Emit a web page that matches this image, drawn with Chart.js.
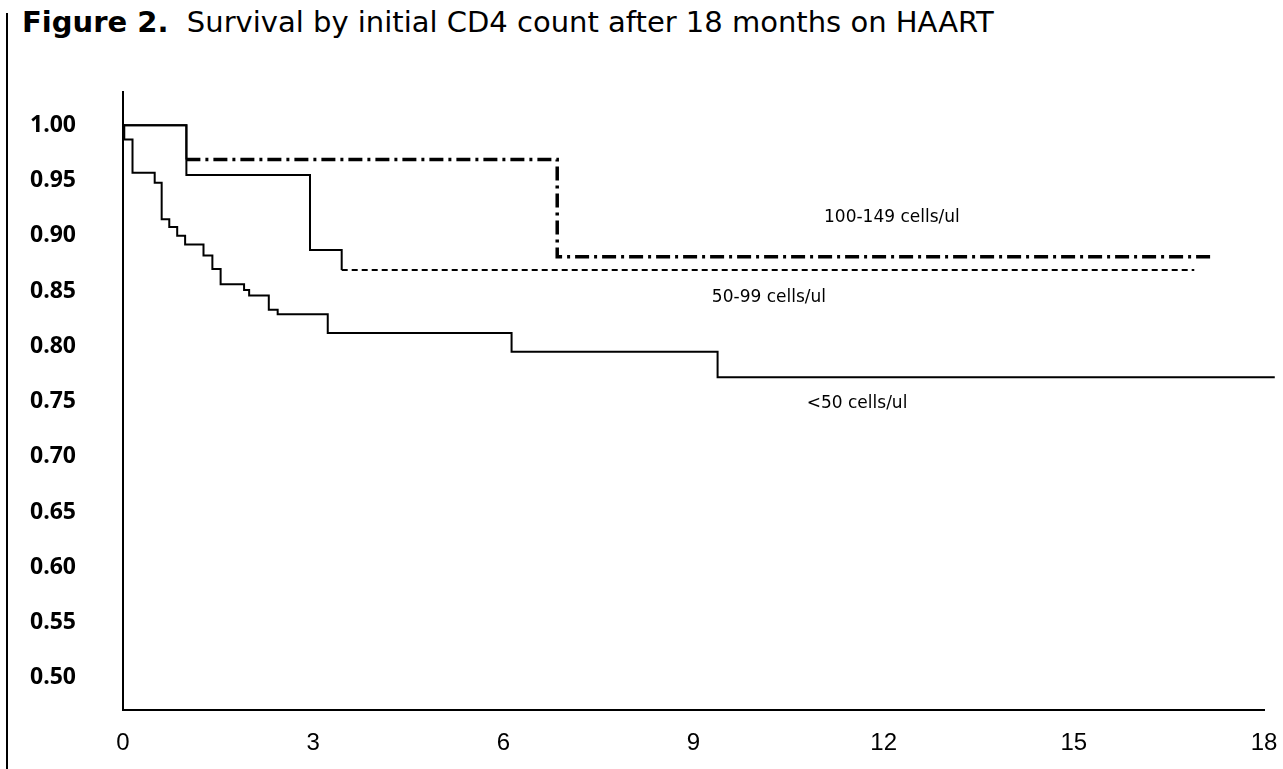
<!DOCTYPE html>
<html>
<head>
<meta charset="utf-8">
<title>Survival by initial CD4 count</title>
<script src="https://cdn.jsdelivr.net/npm/chart.js@4.4.1/dist/chart.umd.min.js"></script>
<style>
  html, body { margin: 0; padding: 0; background: #fff; }
  body { width: 1283px; height: 769px; position: relative; overflow: hidden; }
  .rule { position: absolute; left: 6px; top: 13px; bottom: 0; border-left: 2px solid #000; }
  h1 { position: absolute; left: 22px; top: 5px; margin: 0; font: 400 29px "DejaVu Sans", sans-serif; color: #000; white-space: pre; }
  h1 b { font-weight: 700; }
  .wrap { position: absolute; left: 0; top: 60px; width: 1283px; height: 709px; }
</style>
</head>
<body>
<div class="rule"></div>
<h1><b>Figure 2.</b>  Survival by initial CD4 count after 18 months on HAART</h1>
<div class="wrap"><canvas id="kmChart"></canvas></div>
<script>
// axis ticks
const monthTicks = [0, 3, 6, 9, 12, 15, 18];
const survTicks = [0.50, 0.55, 0.60, 0.65, 0.70, 0.75, 0.80, 0.85, 0.90, 0.95, 1.00];

// <50 cells/ul
const lt50Months = [0, 0.02, 0.15, 0.50, 0.61, 0.73, 0.855, 0.98, 1.27, 1.41, 1.54, 1.91, 1.99, 2.30, 2.44, 3.23, 6.13, 9.38, 18.17];
const lt50Surv = [1.00, 0.987, 0.957, 0.948, 0.915, 0.908, 0.900, 0.892, 0.882, 0.870, 0.856, 0.851, 0.846, 0.833, 0.829, 0.812, 0.795, 0.772, 0.772];

// 50-99 cells/ul
const mid50Months = [0, 1.0, 2.95, 3.45, 16.9];
const mid50Surv = [1.00, 0.955, 0.887, 0.869, 0.869];

// 100-149 cells/ul
const hi100Months = [0, 1.0, 6.85, 17.15];
const hi100Surv = [1.00, 0.969, 0.881, 0.881];

const groupNames = ['<50 cells/ul', '50-99 cells/ul', '100-149 cells/ul'];

function toPoints(xs, ys) {
    return xs.map((m, i) => ({ x: m, y: ys[i] }));
}

// curve captions, placed in data units
const captionAt = [
    { x: 11.58, y: 0.748 },
    { x: 10.19, y: 0.8445 },
    { x: 12.13, y: 0.916 }
];

const curveLabels = {
    id: 'curveLabels',
    afterDatasetsDraw(chart) {
        const { ctx, scales: { x, y } } = chart;
        ctx.save();
        ctx.font = '17px "DejaVu Sans", sans-serif';
        ctx.fillStyle = '#000';
        ctx.textAlign = 'center';
        ctx.textBaseline = 'middle';
        groupNames.forEach((name, i) => {
            ctx.fillText(name, x.getPixelForValue(captionAt[i].x), y.getPixelForValue(captionAt[i].y));
        });
        ctx.restore();
    }
};

const ctx = document.getElementById('kmChart').getContext('2d');
new Chart(ctx, {
    type: 'line',
    data: {
        datasets: [
            {
                label: groupNames[0],
                data: toPoints(lt50Months, lt50Surv),
                stepped: 'before',
                borderColor: '#000',
                borderWidth: 2,
                pointRadius: 0,
                fill: false,
                clip: false
            },
            {
                label: groupNames[1],
                data: toPoints(mid50Months, mid50Surv),
                stepped: 'before',
                borderColor: '#000',
                borderWidth: 2,
                pointRadius: 0,
                fill: false,
                segment: {
                    borderDash: c => c.p0.parsed.x >= 3.4 ? [6, 4] : undefined
                }
            },
            {
                label: groupNames[2],
                data: toPoints(hi100Months, hi100Surv),
                stepped: 'before',
                borderColor: '#000',
                borderWidth: 3.5,
                borderDash: [14, 5, 3, 5],
                pointRadius: 0,
                fill: false,
                segment: {
                    borderDash: c => c.p0.parsed.x < 1 ? [] : undefined,
                    borderWidth: c => c.p0.parsed.x < 1 ? 2 : undefined
                }
            }
        ]
    },
    options: {
        responsive: true,
        maintainAspectRatio: false,
        animation: false,
        layout: { padding: { left: 30, right: 19, top: 32, bottom: 0 } },
        plugins: {
            legend: { display: false },
            tooltip: { enabled: false }
        },
        scales: {
            x: {
                type: 'linear',
                min: 0,
                max: 18,
                afterBuildTicks: s => { s.ticks = monthTicks.map(v => ({ value: v })); },
                afterFit: s => { s.height = 59; s.paddingRight = 0; },
                grid: { drawOnChartArea: false, drawTicks: false },
                border: { display: true, color: '#000', width: 2 },
                ticks: {
                    padding: 19,
                    color: '#000',
                    font: { family: '"Liberation Sans", Arial, sans-serif', size: 24 },
                    maxRotation: 0
                }
            },
            y: {
                type: 'linear',
                min: 0.471,
                max: 1.03,
                afterBuildTicks: s => { s.ticks = survTicks.map(v => ({ value: v })); },
                afterFit: s => { s.width = 93; },
                grid: { drawOnChartArea: false, drawTicks: false },
                border: { display: true, color: '#000', width: 2 },
                ticks: {
                    crossAlign: 'far',
                    color: '#000',
                    font: { family: '"Open Sans", sans-serif', size: 23, weight: 'bold' },
                    callback: v => v.toFixed(2)
                }
            }
        }
    },
    plugins: [curveLabels]
});
</script>
</body>
</html>
